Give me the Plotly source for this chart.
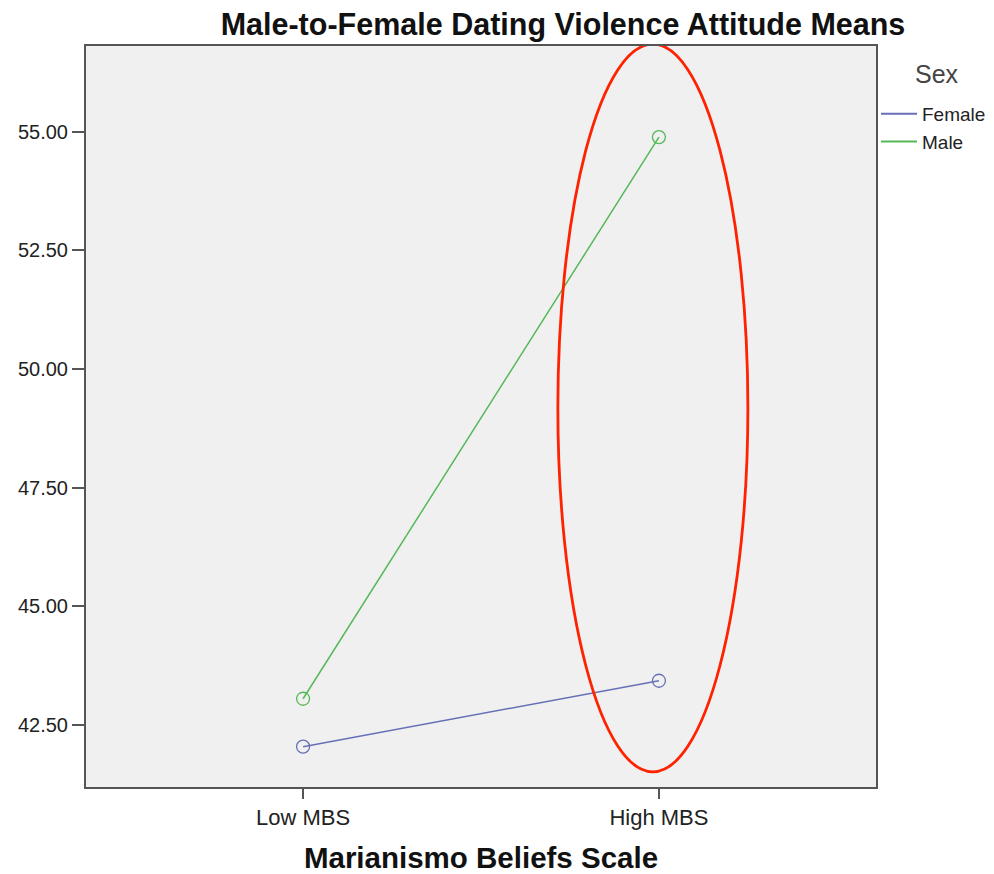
import plotly.graph_objects as go

categories = ["Low MBS", "High MBS"]
female_means = [42.04, 43.43]
male_means = [43.05, 54.89]
y_ticks = [42.5, 45.0, 47.5, 50.0, 52.5, 55.0]
y_tick_labels = ["42.50", "45.00", "47.50", "50.00", "52.50", "55.00"]

female_color = "#6770b6"
male_color = "#55b858"

xpos = list(range(len(categories)))

W, H = 994, 866
L, T, PW, PH = 78, 38, 790, 741

fig = go.Figure()
for name, vals, col in [("Female", female_means, female_color), ("Male", male_means, male_color)]:
    fig.add_trace(go.Scatter(
        x=xpos, y=vals, mode="lines+markers", name=name, showlegend=False,
        line=dict(color=col, width=1.5),
        marker=dict(symbol="circle-open", size=13, color=col, line=dict(width=1.3)),
    ))
    fig.add_trace(go.Scatter(
        x=[None], y=[None], mode="lines", name=name,
        line=dict(color=col, width=2),
    ))

fig.add_shape(type="circle", xref="x", yref="y",
              x0=0.716, x1=1.25, y0=41.51, y1=56.85,
              line=dict(color="#ff2200", width=2.8), layer="above")

fig.update_layout(
    width=W, height=H,
    margin=dict(l=L, r=W - L - PW, t=T, b=H - T - PH, autoexpand=False),
    paper_bgcolor="white",
    plot_bgcolor="#f0f0f0",
    font=dict(family="Liberation Sans, Arial, sans-serif", size=16, color="#333333"),
    title=dict(text="<b>Male-to-Female Dating Violence Attitude Means</b>",
               x=555 / W, xanchor="center", xref="container",
               y=1 - 16 / H, yanchor="middle",
               font=dict(size=30.5, color="#111111")),
    xaxis=dict(
        range=[-0.61, 1.61], tickvals=xpos, ticktext=categories,
        showgrid=False, zeroline=False,
        showline=True, linecolor="#555555", linewidth=2, mirror=True,
        ticks="outside", ticklen=10, tickwidth=2, tickcolor="#555555",
        tickfont=dict(size=22, color="#222222"),
        automargin=False,
        title=dict(text="<b>Marianismo Beliefs Scale</b>", standoff=23,
                   font=dict(size=29.5, color="#111111")),
    ),
    yaxis=dict(
        range=[41.19, 56.81], tickvals=y_ticks, ticktext=y_tick_labels,
        showgrid=False, zeroline=False,
        showline=True, linecolor="#555555", linewidth=2, mirror=True,
        ticks="outside", ticklen=12, tickwidth=2, tickcolor="#555555",
        tickfont=dict(size=20, color="#222222"),
        automargin=False,
    ),
    legend=dict(
        x=1.0, xanchor="left", y=1 - 49 / PH,
        yanchor="top", bgcolor="rgba(0,0,0,0)",
        font=dict(size=19, color="#222222"),
        tracegroupgap=0, itemwidth=36,
    ),
    annotations=[dict(text="Sex", xref="paper", yref="paper",
                      x=(912 - 85) / PW, xanchor="left",
                      y=1 - (72 - 44) / PH, yanchor="middle",
                      showarrow=False, font=dict(size=25, color="#444444"))],
)

fig.write_html("out.html")
